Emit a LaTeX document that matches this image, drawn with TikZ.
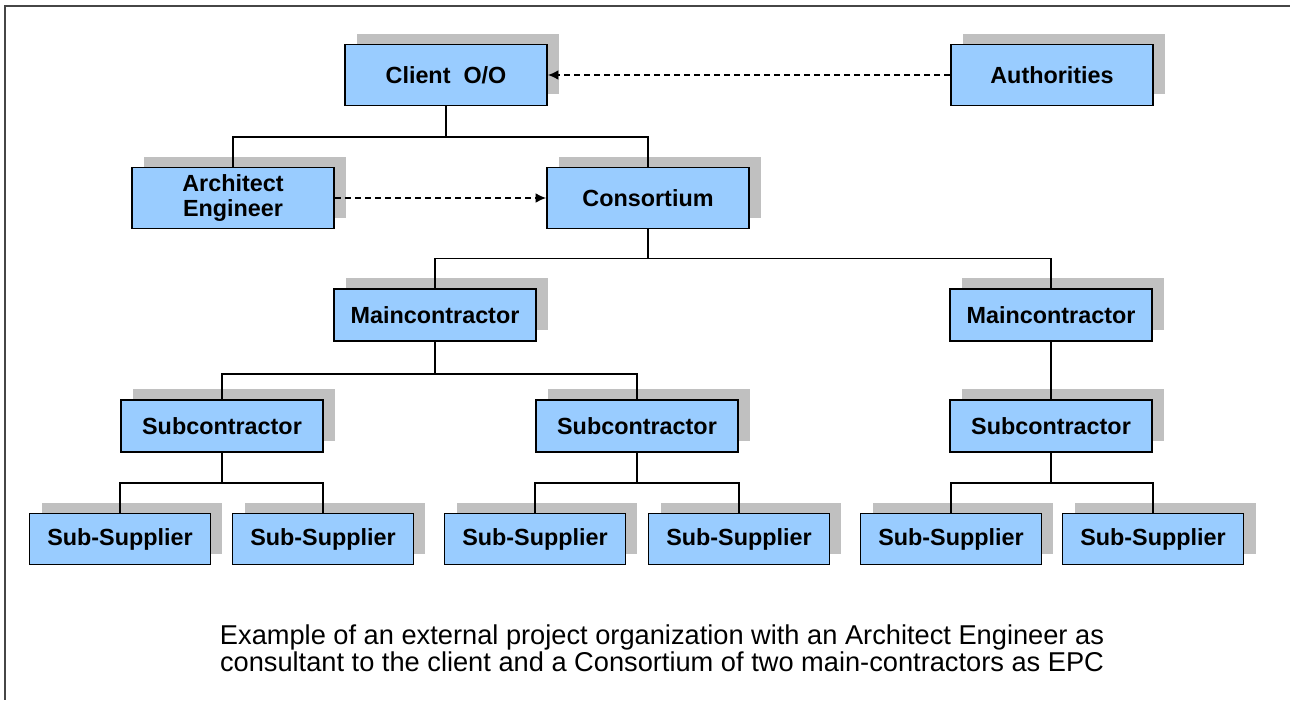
\documentclass[tikz,border=0pt]{standalone}
\usepackage{fontspec}
\setmainfont{Liberation Sans}
\usetikzlibrary{shadows,arrows.meta}
\definecolor{orgblue}{RGB}{153,204,255}
\definecolor{orgshadow}{RGB}{192,192,192}
\definecolor{orgframe}{RGB}{70,70,70}

\begin{document}
\begin{tikzpicture}[x=0.02cm, y=-0.02cm]
    % Define styles
    \tikzset{
        box/.style={rectangle, draw=black, line width=1pt, fill=orgblue, minimum width=4.04cm, minimum height=1.22cm, align=center, font=\bfseries\fontsize{13.3}{14.3}\selectfont, general shadow={fill=orgshadow, shadow xshift=0.24cm, shadow yshift=0.22cm}},
        lowbox/.style={box, minimum height=1.04cm},
        supbox/.style={lowbox, minimum width=3.62cm, minimum height=1.02cm},
        link/.style={line width=1pt},
        dep/.style={line width=0.8pt, dash pattern=on 3.4pt off 2.3pt, -{Latex[length=6pt,width=5.5pt]}}
    }
    \useasboundingbox (0,0) rectangle (1290,700);

    % Frame
    \draw[line width=1.4pt, orgframe] (1290,6) -- (5,6) -- (5,700);

    % Top levels
    \node[box] (client) at (446,75) {Client\ \ O/O};
    \node[box] (auth) at (1052,75) {Authorities};
    \node[box] (arch) at (233,198) {Architect\\Engineer};
    \node[box] (cons) at (648,198) {Consortium};

    % Contractors
    \node[lowbox] (mainl) at (435,315) {Maincontractor};
    \node[lowbox] (mainr) at (1051,315) {Maincontractor};
    \node[lowbox] (subl) at (222,426) {Subcontractor};
    \node[lowbox] (subm) at (637,426) {Subcontractor};
    \node[lowbox] (subr) at (1051,426) {Subcontractor};

    % Suppliers
    \node[supbox] (supa) at (120,539) {Sub-Supplier};
    \node[supbox] (supb) at (323,539) {Sub-Supplier};
    \node[supbox] (supc) at (535,539) {Sub-Supplier};
    \node[supbox] (supd) at (739,539) {Sub-Supplier};
    \node[supbox] (supe) at (951,539) {Sub-Supplier};
    \node[supbox] (supf) at (1153,539) {Sub-Supplier};

    % Lines
    \draw[link] (client.south) -- ++(0,31) -| (arch.north);
    \draw[link] (client.south) -- ++(0,31) -| (cons.north);
    \draw[link] (cons.south) -- ++(0,29) -| (mainl.north);
    \draw[link] (cons.south) -- ++(0,29) -| (mainr.north);
    \draw[link] (mainl.south) -- ++(0,32) -| (subl.north);
    \draw[link] (mainl.south) -- ++(0,32) -| (subm.north);
    \draw[link] (mainr) -- (subr);
    \draw[link] (subl.south) -- ++(0,30) -| (supa.north);
    \draw[link] (subl.south) -- ++(0,30) -| (supb.north);
    \draw[link] (subm.south) -- ++(0,30) -| (supc.north);
    \draw[link] (subm.south) -- ++(0,30) -| (supd.north);
    \draw[link] (subr.south) -- ++(0,30) -| (supe.north);
    \draw[link] (subr.south) -- ++(0,30) -| (supf.north);

    % Dashed relations
    \draw[dep] (auth.west) -- (client.east);
    \draw[dep] (arch.east) -- (cons.west);

    % Caption
    \node[align=center, font=\fontsize{15.5}{15.5}\selectfont] (caption) at (662,648) {Example of an external project organization with an Architect Engineer as\\consultant to the client and a Consortium of two main-contractors as EPC};
\end{tikzpicture}
\end{document}
